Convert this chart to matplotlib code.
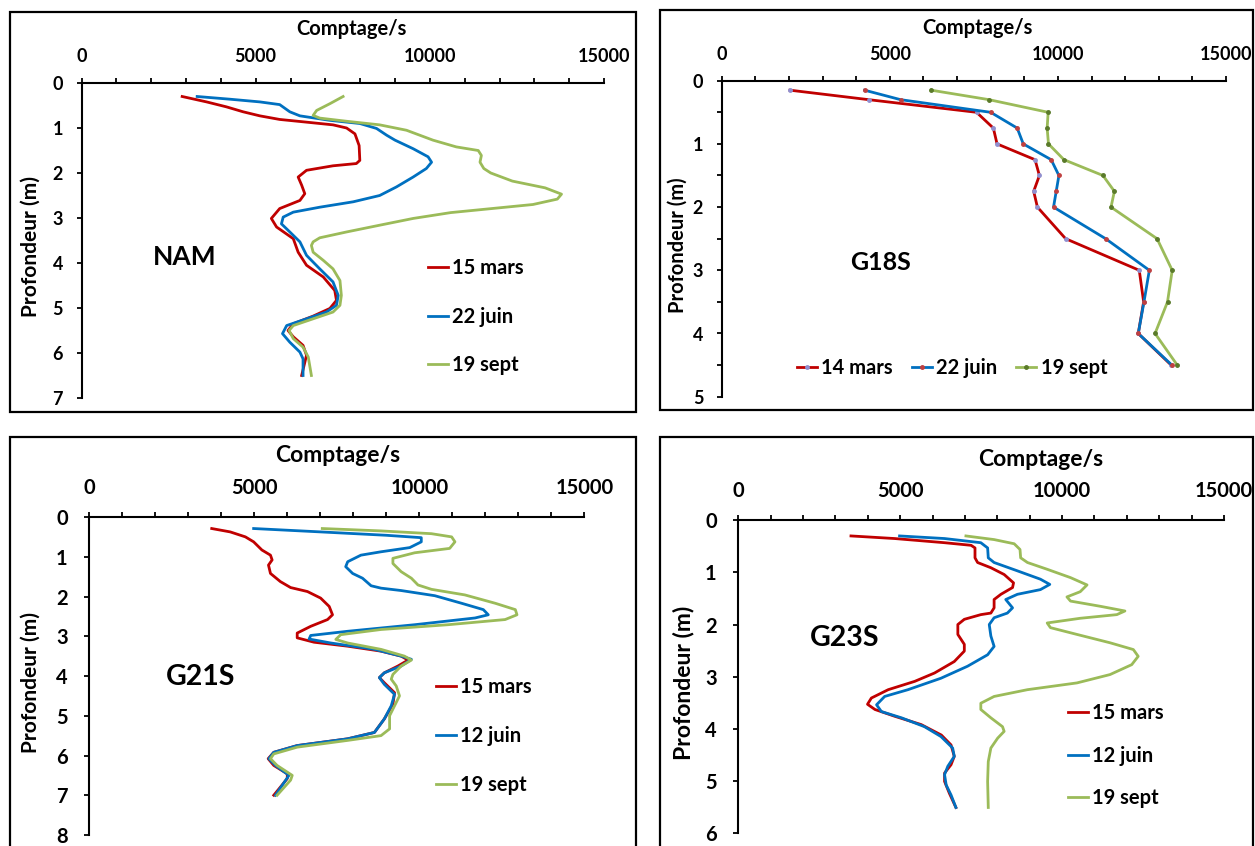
import matplotlib.pyplot as plt
from matplotlib.patches import Rectangle
from matplotlib.ticker import MultipleLocator

# ---- NAM ----
nam_mars_depth = [0.30, 0.42, 0.53, 0.64, 0.73, 0.81, 0.87, 0.93, 1.00, 1.13, 1.39, 1.72, 1.79, 1.84,
                  1.94, 2.09, 2.27, 2.46, 2.61, 2.79, 3.01, 3.20, 3.46, 3.76, 4.05, 4.31, 4.61, 4.83,
                  5.01, 5.18, 5.35, 5.50, 5.64, 5.83, 6.05, 6.50]
nam_mars = [2890, 3590, 4160, 4640, 5120, 5690, 6460, 7220, 7610, 7850, 7970, 7990, 7890, 7220,
            6460, 6220, 6320, 6410, 6270, 5690, 5450, 5600, 6080, 6220, 6460, 6940, 7270, 7320,
            7130, 6650, 6080, 5930, 6080, 6360, 6460, 6320]
nam_juin_depth = [0.30, 0.36, 0.42, 0.48, 0.64, 0.73, 0.83, 0.90, 1.01, 1.16, 1.27, 1.46, 1.64, 1.76,
                  1.90, 2.09, 2.31, 2.50, 2.64, 2.76, 2.87, 2.98, 3.13, 3.31, 3.53, 3.83, 4.13, 4.42,
                  4.72, 4.94, 5.09, 5.24, 5.39, 5.57, 5.76, 5.98, 6.13, 6.50]
nam_juin = [3320, 4260, 5120, 5690, 5980, 6270, 7130, 7990, 8470, 8760, 9000, 9520, 9950, 10050,
            9900, 9520, 9040, 8560, 7800, 6840, 6080, 5790, 5740, 5980, 6270, 6460, 6840, 7220,
            7370, 7320, 7030, 6460, 5890, 5770, 5980, 6270, 6360, 6360]
nam_sept_depth = [0.30, 0.46, 0.61, 0.72, 0.78, 0.85, 0.93, 1.05, 1.27, 1.42, 1.50, 1.61, 1.76, 1.90,
                  2.00, 2.18, 2.33, 2.47, 2.58, 2.70, 2.79, 2.88, 3.01, 3.16, 3.31, 3.44, 3.53, 3.61,
                  3.76, 3.94, 4.13, 4.39, 4.72, 4.94, 5.09, 5.24, 5.39, 5.50, 5.68, 5.87, 6.09, 6.50]
nam_sept = [7510, 7130, 6750, 6650, 6840, 7610, 8560, 9330, 10090, 10760, 11390, 11480, 11440, 11550,
            11750, 12370, 13310, 13780, 13660, 12960, 11780, 10600, 9520, 8560, 7610, 6840, 6650, 6600,
            6650, 6940, 7220, 7420, 7460, 7420, 7220, 6650, 6080, 5960, 6080, 6360, 6510, 6600]

# ---- G18S ----
g18_depth = [0.15, 0.3, 0.5, 0.75, 1.0, 1.25, 1.5, 1.75, 2.0, 2.5, 3.0, 3.5, 4.0, 4.5]
g18_mars = [2030, 4370, 7580, 8080, 8190, 9320, 9450, 9280, 9390, 10230, 12420, 12550, 12390, 13370]
g18_juin = [4250, 5320, 8000, 8790, 8970, 9800, 10030, 9950, 9870, 11420, 12720, 12560, 12390, 13390]
g18_sept = [6230, 7950, 9710, 9680, 9720, 10180, 11340, 11680, 11580, 12950, 13400, 13260, 12890, 13550]

# ---- G21S ----
g21_mars_depth = [0.29, 0.375, 0.5, 0.625, 0.83, 0.96, 1.08, 1.21, 1.42, 1.625, 1.775, 1.875, 2.04, 2.25,
                  2.46, 2.58, 2.75, 2.92, 3.04, 3.15, 3.25, 3.375, 3.5, 3.6, 3.75, 3.92, 4.04, 4.17,
                  4.42, 4.71, 5.08, 5.42, 5.58, 5.75, 5.92, 6.08, 6.25, 6.46, 6.58, 7.0]
g21_mars = [3710, 4270, 4730, 4980, 5230, 5490, 5540, 5430, 5490, 5790, 6100, 6610, 7010, 7270,
            7370, 7220, 6710, 6300, 6300, 6810, 7830, 8840, 9450, 9660, 9350, 8940, 8790, 8940,
            9250, 9200, 8940, 8640, 7830, 6300, 5590, 5420, 5590, 6000, 6000, 5590]
g21_juin_depth = [0.29, 0.375, 0.46, 0.52, 0.625, 0.77, 0.875, 0.96, 1.125, 1.25, 1.42, 1.54, 1.73, 1.79,
                  1.85, 1.98, 2.17, 2.33, 2.46, 2.54, 2.71, 2.875, 2.98, 3.07, 3.17, 3.33, 3.5, 3.58,
                  3.75, 3.92, 4.04, 4.21, 4.46, 4.75, 5.08, 5.42, 5.58, 5.75, 5.92, 6.08, 6.25, 6.5, 7.0]
g21_juin = [4980, 7010, 9000, 10060, 10060, 9710, 8840, 8230, 7830, 7770, 7980, 8280, 8540, 8840,
            9450, 10470, 11280, 11940, 12090, 11690, 9860, 7830, 6710, 6660, 7320, 8640, 9450, 9760,
            9450, 8940, 8790, 8940, 9250, 9150, 8940, 8640, 7830, 6300, 5590, 5440, 5640, 6050, 5640]
g21_sept_depth = [0.29, 0.35, 0.42, 0.5, 0.625, 0.79, 0.9, 1.04, 1.17, 1.375, 1.54, 1.71, 1.82, 1.96,
                  2.17, 2.33, 2.46, 2.58, 2.71, 2.83, 2.96, 3.08, 3.17, 3.33, 3.5, 3.6, 3.75, 3.96,
                  4.08, 4.25, 4.5, 4.75, 5.0, 5.33, 5.5, 5.62, 5.79, 5.96, 6.08, 6.25, 6.5, 6.62, 7.0]
g21_sept = [7060, 8840, 10370, 10980, 11080, 10920, 9860, 9200, 9200, 9450, 9760, 9960, 10370, 11380,
            12300, 12910, 12960, 12600, 10870, 8840, 7620, 7470, 7830, 8840, 9550, 9760, 9450, 9200,
            9150, 9300, 9400, 9250, 9100, 9100, 8840, 7830, 6300, 5590, 5490, 5690, 6150, 6100, 5690]

# ---- G23S ----
g23_mars_depth = [0.30, 0.35, 0.43, 0.48, 0.53, 0.72, 0.81, 0.91, 1.04, 1.20, 1.29, 1.42, 1.52, 1.68,
                  1.78, 1.81, 1.90, 2.00, 2.19, 2.38, 2.51, 2.71, 2.93, 3.09, 3.25, 3.41, 3.53, 3.63,
                  3.76, 3.92, 4.12, 4.31, 4.53, 4.69, 4.85, 5.01, 5.24, 5.51]
g23_mars = [3480, 4830, 6370, 7190, 7310, 7310, 7390, 7800, 8210, 8500, 8470, 8110, 7900, 7900,
            7800, 7490, 6980, 6780, 6780, 6980, 6980, 6670, 6060, 5450, 4630, 4110, 3990, 4220,
            4830, 5650, 6270, 6570, 6670, 6570, 6370, 6370, 6520, 6720]
g23_juin_depth = [0.30, 0.35, 0.43, 0.53, 0.72, 0.81, 0.97, 1.13, 1.23, 1.33, 1.42, 1.52, 1.68, 1.78,
                  1.87, 2.00, 2.22, 2.42, 2.58, 2.80, 3.03, 3.25, 3.38, 3.54, 3.67, 3.79, 3.96, 4.15,
                  4.37, 4.53, 4.72, 4.88, 5.08, 5.27, 5.51]
g23_juin = [4980, 6370, 7490, 7700, 7720, 7900, 8620, 9330, 9620, 9330, 8620, 8260, 8470, 8310,
            7900, 7750, 7800, 7900, 7700, 7080, 6260, 5240, 4520, 4270, 4420, 5040, 5750, 6260,
            6620, 6670, 6470, 6370, 6420, 6570, 6720]
g23_sept_depth = [0.30, 0.37, 0.45, 0.56, 0.72, 0.81, 0.94, 1.10, 1.24, 1.37, 1.47, 1.55, 1.65, 1.74,
                  1.81, 1.88, 1.97, 2.06, 2.19, 2.35, 2.48, 2.61, 2.77, 2.96, 3.12, 3.25, 3.38, 3.51,
                  3.63, 3.79, 3.96, 4.05, 4.18, 4.37, 4.63, 5.01, 5.51]
g23_sept = [7030, 7900, 8520, 8700, 8720, 8930, 9540, 10260, 10770, 10560, 10150, 10260, 11180, 11940,
            11690, 10560, 9540, 9640, 10460, 11480, 12200, 12350, 12150, 11480, 10460, 8930, 7900, 7490,
            7490, 7800, 8160, 8210, 8010, 7800, 7720, 7700, 7720]

RED, BLUE, GREEN = '#C00000', '#0070C0', '#9BBB59'
W, H = 1255, 846

plt.rcParams['font.family'] = ['Lato', 'DejaVu Sans']
plt.rcParams['font.weight'] = 'bold'

fig = plt.figure(figsize=(W / 100, H / 100), dpi=100)


def fx(x):
    return x / W


def fy(y):
    return 1 - y / H


def make_panel(box, ymax, tick_fs, xlab_fs, ylab_fs, xlab_xy, ylab_x, xpad, ypad, half_ticks=False):
    x0, y0, x1, y1 = box
    ax = fig.add_axes([fx(x0), fy(y1), (x1 - x0) / W, (y1 - y0) / H])
    ax.set_xlim(0, 15000)
    ax.set_ylim(ymax, 0)
    for s in ('right', 'bottom'):
        ax.spines[s].set_visible(False)
    for s in ('top', 'left'):
        ax.spines[s].set_linewidth(1.5)
    ax.xaxis.tick_top()
    ax.xaxis.set_label_position('top')
    ax.xaxis.set_major_locator(MultipleLocator(5000))
    ax.xaxis.set_minor_locator(MultipleLocator(1000))
    ax.yaxis.set_major_locator(MultipleLocator(1))
    if half_ticks:
        ax.yaxis.set_minor_locator(MultipleLocator(0.5))
    ax.tick_params(which='both', direction='out', length=3.5, width=1.3, color='black')
    ax.tick_params(axis='x', which='major', labelsize=tick_fs, pad=xpad)
    ax.tick_params(axis='y', which='major', labelsize=tick_fs, pad=ypad)
    ax.set_xlabel('Comptage/s', fontsize=xlab_fs, fontweight='bold', va='center')
    ax.xaxis.set_label_coords((xlab_xy[0] - x0) / (x1 - x0), 1 + (y0 - xlab_xy[1]) / (y1 - y0))
    ax.set_ylabel('Profondeur (m)', fontsize=ylab_fs, fontweight='bold', va='center')
    ax.yaxis.set_label_coords((ylab_x - x0) / (x1 - x0), 0.48)
    ax.patch.set_visible(False)
    return ax


# panel borders
for bx0, by0, bx1, by1 in [(10, 12, 636, 412), (660, 10, 1253, 410), (10, 437, 636, 860), (660, 437, 1253, 860)]:
    fig.add_artist(Rectangle((fx(bx0), fy(by1)), (bx1 - bx0) / W, (by1 - by0) / H,
                             transform=fig.transFigure, fill=False, edgecolor='black', linewidth=1.6))

leg_kw = dict(frameon=False, fontsize=14.5, handlelength=1.0, handletextpad=0.2, borderpad=0,
              borderaxespad=0, bbox_transform=fig.transFigure, loc='upper left')

# NAM
ax = make_panel((81.5, 83, 604, 398), 7, 13, 14.5, 15, (351, 29), 31, 9.3, 9.8)
ax.plot(nam_mars, nam_mars_depth, color=RED, lw=2, label='15 mars')
ax.plot(nam_juin, nam_juin_depth, color=BLUE, lw=2, label='22 juin')
ax.plot(nam_sept, nam_sept_depth, color=GREEN, lw=2, label='19 sept')
fig.text(fx(185), fy(257), 'NAM', fontsize=19, fontweight='bold', ha='center', va='center')
ax.legend(bbox_to_anchor=(fx(428), fy(258)), labelspacing=1.42, **leg_kw)

# G18S
ax = make_panel((721.7, 80.7, 1226, 396.7), 5, 13, 14.5, 14.5, (977, 28), 678, 9.3, 9.8, half_ticks=True)
ax.plot(g18_mars, g18_depth, color=RED, lw=2, marker='o', ms=2.5, mfc='#9090D0', mec='#9090D0', label='14 mars')
ax.plot(g18_juin, g18_depth, color=BLUE, lw=2, marker='o', ms=2.5, mfc='#C04040', mec='#C04040', label='22 juin')
ax.plot(g18_sept, g18_depth, color=GREEN, lw=2, marker='o', ms=2.5, mfc='#5A7A2A', mec='#5A7A2A', label='19 sept')
fig.text(fx(881), fy(262), 'G18S', fontsize=18, fontweight='bold', ha='center', va='center')
ax.legend(bbox_to_anchor=(fx(797), fy(358)), ncol=3, columnspacing=0.95, **leg_kw)

# G21S
ax = make_panel((89.3, 517, 584.3, 835), 8, 14.5, 16.5, 15, (338, 455), 31, 10.3, 12)
ax.plot(g21_mars, g21_mars_depth, color=RED, lw=2, label='15 mars')
ax.plot(g21_juin, g21_juin_depth, color=BLUE, lw=2, label='12 juin')
ax.plot(g21_sept, g21_sept_depth, color=GREEN, lw=2, label='19 sept')
fig.text(fx(201), fy(677), 'G21S', fontsize=20.5, fontweight='bold', ha='center', va='center')
ax.legend(bbox_to_anchor=(fx(436), fy(677)), labelspacing=1.45, **leg_kw)

# G23S
ax = make_panel((738.3, 520.3, 1224, 833), 6, 14.5, 16.5, 16.5, (1041, 459), 683, 10.3, 12)
ax.plot(g23_mars, g23_mars_depth, color=RED, lw=2, label='15 mars')
ax.plot(g23_juin, g23_juin_depth, color=BLUE, lw=2, label='12 juin')
ax.plot(g23_sept, g23_sept_depth, color=GREEN, lw=2, label='19 sept')
fig.text(fx(845), fy(638), 'G23S', fontsize=20.5, fontweight='bold', ha='center', va='center')
ax.legend(bbox_to_anchor=(fx(1068), fy(703)), labelspacing=1.12, **leg_kw)

fig.savefig('out.png', dpi=100)
